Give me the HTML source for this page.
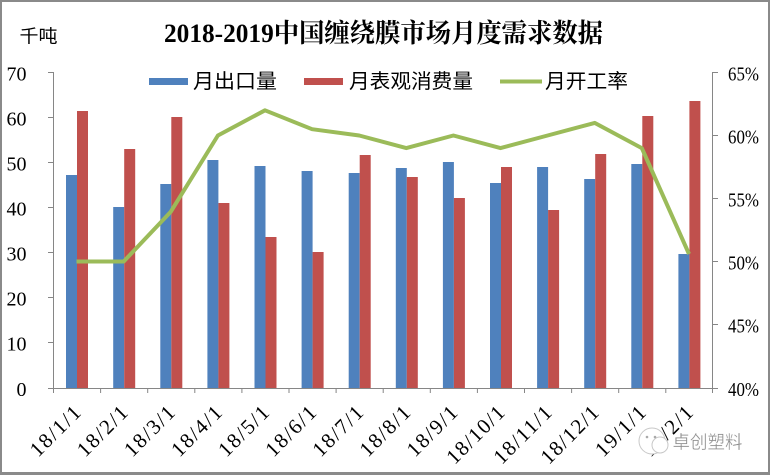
<!DOCTYPE html>
<html>
<head>
<meta charset="utf-8">
<style>
html,body{margin:0;padding:0;background:#fff;}
svg{display:block;}
</style>
</head>
<body>
<svg width="770" height="475" viewBox="0 0 770 475" xmlns="http://www.w3.org/2000/svg">
<rect x="0" y="0" width="770" height="475" fill="#ffffff"/>
<!-- border -->
<rect x="0" y="0" width="770" height="2" fill="#8a8a8a"/>
<rect x="0" y="0" width="2" height="475" fill="#8a8a8a"/>
<rect x="0" y="472" width="770" height="3" fill="#8a8a8a"/>
<rect x="768" y="0" width="2" height="475" fill="#8a8a8a"/>

<!-- title -->
<text x="164" y="42" font-family="'Liberation Serif','Noto Serif CJK SC',serif" font-size="26" font-weight="bold" fill="#000" textLength="439" lengthAdjust="spacingAndGlyphs">2018-2019中国缠绕膜市场月度需求数据</text>
<!-- unit -->
<text x="19.5" y="42.5" font-family="'Liberation Sans','Noto Sans CJK SC',sans-serif" font-size="18" fill="#000" textLength="38" lengthAdjust="spacingAndGlyphs">千吨</text>

<!-- legend -->
<rect x="149" y="78" width="39" height="7" fill="#4F81BD"/>
<text x="193" y="88" font-family="'Liberation Sans','Noto Sans CJK SC',sans-serif" font-size="20" fill="#000" textLength="84" lengthAdjust="spacingAndGlyphs">月出口量</text>
<rect x="304" y="78" width="39" height="7" fill="#C0504D"/>
<text x="349" y="88" font-family="'Liberation Sans','Noto Sans CJK SC',sans-serif" font-size="20" fill="#000" textLength="124" lengthAdjust="spacingAndGlyphs">月表观消费量</text>
<line x1="500" y1="81.5" x2="542" y2="81.5" stroke="#9BBB59" stroke-width="4"/>
<text x="545" y="88" font-family="'Liberation Sans','Noto Sans CJK SC',sans-serif" font-size="20" fill="#000" textLength="83" lengthAdjust="spacingAndGlyphs">月开工率</text>

<!-- bars -->
<g fill="#4F81BD">
<rect x="66" y="175" width="11" height="213"/>
<rect x="113.2" y="207" width="11" height="181"/>
<rect x="160.3" y="184" width="11" height="204"/>
<rect x="207.4" y="160" width="11" height="228"/>
<rect x="254.5" y="166" width="11" height="222"/>
<rect x="301.6" y="171" width="11" height="217"/>
<rect x="348.7" y="173" width="11" height="215"/>
<rect x="395.8" y="168" width="11" height="220"/>
<rect x="442.9" y="162" width="11" height="226"/>
<rect x="490" y="183" width="11" height="205"/>
<rect x="537.1" y="167" width="11" height="221"/>
<rect x="584.2" y="179" width="11" height="209"/>
<rect x="631.3" y="164" width="11" height="224"/>
<rect x="678.4" y="254" width="11" height="134"/>
</g>
<g fill="#C0504D">
<rect x="77" y="111" width="11" height="277"/>
<rect x="124.2" y="149" width="11" height="239"/>
<rect x="171.3" y="117" width="11" height="271"/>
<rect x="218.4" y="203" width="11" height="185"/>
<rect x="265.5" y="237" width="11" height="151"/>
<rect x="312.6" y="252" width="11" height="136"/>
<rect x="359.7" y="155" width="11" height="233"/>
<rect x="406.8" y="177" width="11" height="211"/>
<rect x="453.9" y="198" width="11" height="190"/>
<rect x="501" y="167" width="11" height="221"/>
<rect x="548.1" y="210" width="11" height="178"/>
<rect x="595.2" y="154" width="11" height="234"/>
<rect x="642.3" y="116" width="11" height="272"/>
<rect x="689.4" y="101" width="11" height="287"/>
</g>

<!-- axes -->
<g stroke="#868686" stroke-width="1" fill="none">
<line x1="53.5" y1="72" x2="53.5" y2="388"/>
<line x1="712.5" y1="72" x2="712.5" y2="388"/>
<line x1="53" y1="388.5" x2="713" y2="388.5"/>
<line x1="48" y1="72.5" x2="53" y2="72.5"/>
<line x1="48" y1="117.5" x2="53" y2="117.5"/>
<line x1="48" y1="162.5" x2="53" y2="162.5"/>
<line x1="48" y1="207.5" x2="53" y2="207.5"/>
<line x1="48" y1="252.5" x2="53" y2="252.5"/>
<line x1="48" y1="297.5" x2="53" y2="297.5"/>
<line x1="48" y1="342.5" x2="53" y2="342.5"/>
<line x1="48" y1="388.5" x2="53" y2="388.5"/>
<line x1="713" y1="72.5" x2="718" y2="72.5"/>
<line x1="713" y1="135.5" x2="718" y2="135.5"/>
<line x1="713" y1="198.5" x2="718" y2="198.5"/>
<line x1="713" y1="261.5" x2="718" y2="261.5"/>
<line x1="713" y1="324.5" x2="718" y2="324.5"/>
<line x1="713" y1="388.5" x2="718" y2="388.5"/>
<line x1="53.5" y1="388" x2="53.5" y2="393"/>
<line x1="100.6" y1="388" x2="100.6" y2="393"/>
<line x1="147.7" y1="388" x2="147.7" y2="393"/>
<line x1="194.8" y1="388" x2="194.8" y2="393"/>
<line x1="241.9" y1="388" x2="241.9" y2="393"/>
<line x1="289" y1="388" x2="289" y2="393"/>
<line x1="336.1" y1="388" x2="336.1" y2="393"/>
<line x1="383.2" y1="388" x2="383.2" y2="393"/>
<line x1="430.3" y1="388" x2="430.3" y2="393"/>
<line x1="477.4" y1="388" x2="477.4" y2="393"/>
<line x1="524.5" y1="388" x2="524.5" y2="393"/>
<line x1="571.6" y1="388" x2="571.6" y2="393"/>
<line x1="618.7" y1="388" x2="618.7" y2="393"/>
<line x1="665.8" y1="388" x2="665.8" y2="393"/>
<line x1="712.5" y1="388" x2="712.5" y2="393"/>
</g>

<!-- line series -->
<polyline fill="none" stroke="#9BBB59" stroke-width="4" stroke-linejoin="round" stroke-linecap="butt"
 points="76.5,261.5 123.7,261.5 170.8,211.7 217.9,135.5 265,110.3 312.1,129.2 359.2,135.5 406.3,148.1 453.4,135.5 500.5,148.1 547.6,135.5 594.7,122.9 641.8,148.1 689,254"/>

<!-- left labels -->
<g font-family="'Liberation Serif',serif" font-size="20" fill="#000" text-anchor="end">
<text x="26.5" y="80.5">70</text>
<text x="26.5" y="125.5">60</text>
<text x="26.5" y="170.5">50</text>
<text x="26.5" y="215.5">40</text>
<text x="26.5" y="260.5">30</text>
<text x="26.5" y="305.5">20</text>
<text x="26.5" y="350.5">10</text>
<text x="26.5" y="396">0</text>
</g>
<!-- right labels -->
<g font-family="'Liberation Serif',serif" font-size="20" fill="#000">
<text x="728" y="80.5" textLength="31" lengthAdjust="spacingAndGlyphs">65%</text>
<text x="728" y="143.5" textLength="31" lengthAdjust="spacingAndGlyphs">60%</text>
<text x="728" y="206.5" textLength="31" lengthAdjust="spacingAndGlyphs">55%</text>
<text x="728" y="269.5" textLength="31" lengthAdjust="spacingAndGlyphs">50%</text>
<text x="728" y="332.5" textLength="31" lengthAdjust="spacingAndGlyphs">45%</text>
<text x="728" y="396" textLength="31" lengthAdjust="spacingAndGlyphs">40%</text>
</g>

<!-- x labels -->
<g font-family="'Liberation Serif',serif" font-size="21" fill="#000" text-anchor="end">
<text transform="translate(82,414) rotate(-45)" textLength="62" lengthAdjust="spacing">18/1/1</text>
<text transform="translate(129.1,414) rotate(-45)" textLength="62" lengthAdjust="spacing">18/2/1</text>
<text transform="translate(176.2,414) rotate(-45)" textLength="62" lengthAdjust="spacing">18/3/1</text>
<text transform="translate(223.3,414) rotate(-45)" textLength="62" lengthAdjust="spacing">18/4/1</text>
<text transform="translate(270.4,414) rotate(-45)" textLength="62" lengthAdjust="spacing">18/5/1</text>
<text transform="translate(317.5,414) rotate(-45)" textLength="62" lengthAdjust="spacing">18/6/1</text>
<text transform="translate(364.6,414) rotate(-45)" textLength="62" lengthAdjust="spacing">18/7/1</text>
<text transform="translate(411.7,414) rotate(-45)" textLength="62" lengthAdjust="spacing">18/8/1</text>
<text transform="translate(458.8,414) rotate(-45)" textLength="62" lengthAdjust="spacing">18/9/1</text>
<text transform="translate(505.9,414) rotate(-45)" textLength="72.5" lengthAdjust="spacing">18/10/1</text>
<text transform="translate(553,414) rotate(-45)" textLength="72.5" lengthAdjust="spacing">18/11/1</text>
<text transform="translate(600.1,414) rotate(-45)" textLength="72.5" lengthAdjust="spacing">18/12/1</text>
<text transform="translate(647.2,414) rotate(-45)" textLength="62" lengthAdjust="spacing">19/1/1</text>
<text transform="translate(694.3,414) rotate(-45)" textLength="62" lengthAdjust="spacing">19/2/1</text>
</g>

<!-- watermark -->
<g>
<circle cx="652" cy="441" r="13" fill="#ffffff" stroke="#c8c8c8" stroke-width="1"/>
<circle cx="660" cy="445" r="8" fill="#ffffff" stroke="#c8c8c8" stroke-width="1"/>
<circle cx="647" cy="437" r="1.3" fill="#aaaaaa"/>
<circle cx="655" cy="437" r="1.3" fill="#aaaaaa"/>
<text x="672.5" y="448.5" font-family="'Liberation Sans','Noto Sans CJK SC',sans-serif" font-size="18" fill="#8e8e8e" stroke="#ffffff" stroke-width="0.3" textLength="70" lengthAdjust="spacingAndGlyphs">卓创塑料</text>
</g>
</svg>
</body>
</html>
